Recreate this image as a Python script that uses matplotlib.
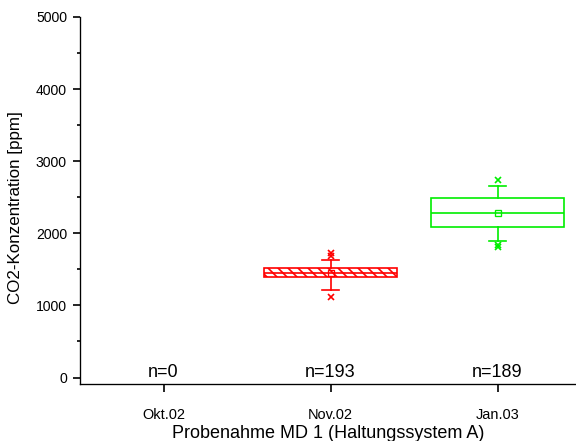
import matplotlib
matplotlib.use("Agg")
import matplotlib.pyplot as plt

DPI = 120
def pt(px):
    return px * 72.0 / DPI

categories = ["Okt.02", "Nov.02", "Jan.03"]
n_labels = ["n=0", "n=193", "n=189"]

# box statistics (Okt.02 has no data)
positions = [2, 3]
q1 = [1390, 2085]
med = [1450, 2275]
q3 = [1512, 2485]
means = [1455, 2275]
whislo = [1220, 1890]
whishi = [1625, 2650]
fliers = [[1690, 1720, 1110], [2745, 1810, 1840]]
colors = ["#ff0000", "#00ee00"]
hatches = ["\\" * 4, None]

plt.rcParams['font.family'] = ['Liberation Sans', 'DejaVu Sans']
plt.rcParams['hatch.linewidth'] = 1.0

fig = plt.figure(figsize=(576 / DPI, 441 / DPI), dpi=DPI)
ax = fig.add_axes([80 / 576, 1 - 384 / 441, 1 - 80 / 576, (384 - 17) / 441])

for i, p in enumerate(positions):
    st = [dict(med=med[i], q1=q1[i], q3=q3[i], whislo=whislo[i], whishi=whishi[i],
               mean=means[i], fliers=fliers[i])]
    c = colors[i]
    ax.bxp(st, positions=[p], widths=0.8, showmeans=True, patch_artist=True,
           showfliers=True, manage_ticks=False,
           boxprops=dict(facecolor='white', edgecolor=c, linewidth=1.0, hatch=hatches[i]),
           medianprops=dict(color=c, linewidth=1.0),
           whiskerprops=dict(color=c, linewidth=1.0),
           capprops=dict(color=c, linewidth=1.0),
           capwidths=0.1,
           meanprops=dict(marker='s', markerfacecolor='none', markeredgecolor=c,
                          markersize=pt(6), markeredgewidth=0.8),
           flierprops=dict(marker='x', markeredgecolor=c, markersize=pt(6),
                           markeredgewidth=1.0))

for i, lab in enumerate(n_labels):
    ax.text(i + 1, 70, lab, ha='center', va='center', fontsize=pt(18))

ax.set_xlim(0.5, 3.47)
ax.set_ylim(-90, 5000)
ax.set_xticks([1, 2, 3])
ax.set_xticklabels(categories, fontsize=pt(14.5))
ax.set_yticks([0, 1000, 2000, 3000, 4000, 5000])
ax.set_yticks([500, 1500, 2500, 3500, 4500], minor=True)
ax.tick_params(axis='y', labelsize=pt(14), length=pt(7), width=1, pad=pt(6))
ax.tick_params(axis='y', which='minor', length=pt(3.5), width=1)
ax.tick_params(axis='x', length=pt(8), width=1, pad=pt(16))
ax.spines['top'].set_visible(False)
ax.spines['right'].set_visible(False)
ax.set_xlabel("Probenahme MD 1 (Haltungssystem A)", fontsize=pt(18), labelpad=pt(3))
ax.set_ylabel("CO2-Konzentration [ppm]", fontsize=pt(17))
ax.yaxis.set_label_coords(-0.114, 0.48)

fig.savefig("out.png", dpi=DPI)
